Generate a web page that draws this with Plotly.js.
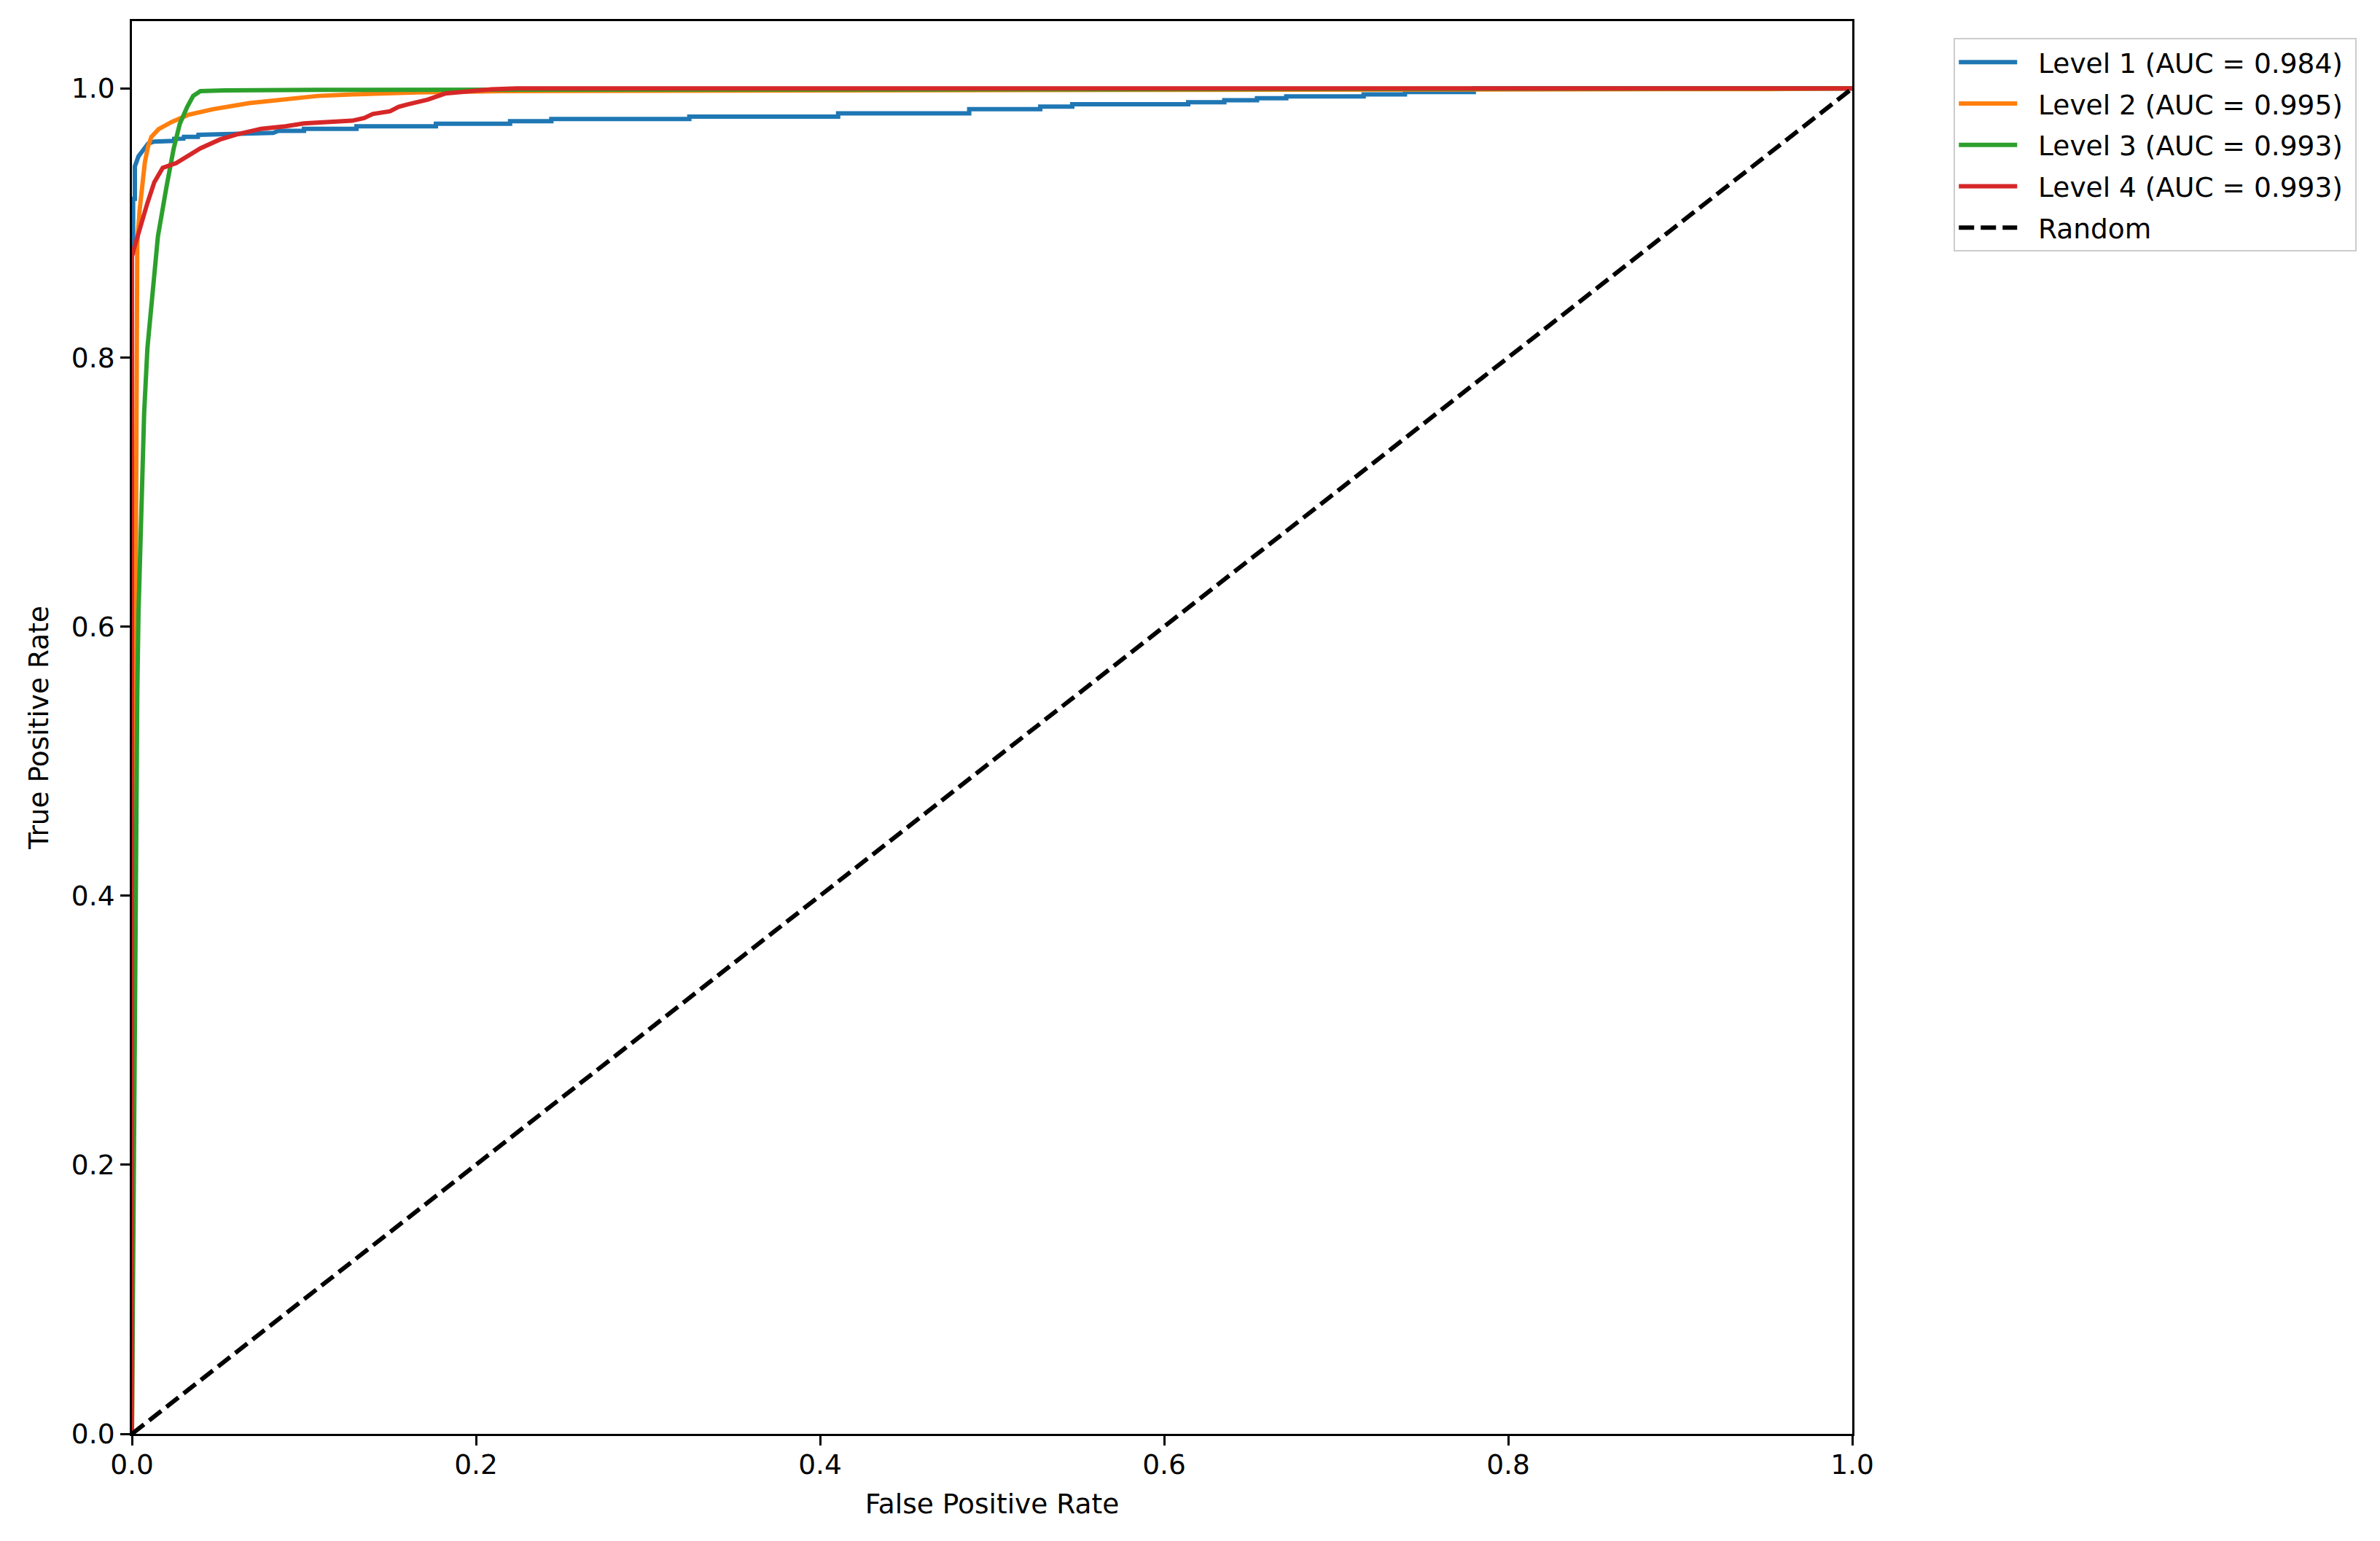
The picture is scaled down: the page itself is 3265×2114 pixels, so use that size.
<!DOCTYPE html>
<html>
<head>
<meta charset="utf-8">
<script src="https://cdn.plot.ly/plotly-3.0.1.min.js"></script>
<style>html,body{margin:0;padding:0;background:#fff;}#chart{width:3265px;height:2114px;}</style>
</head>
<body>
<div id="chart"></div>
<script>
// ---- data ----
const seriesNames = ["Level 1 (AUC = 0.984)", "Level 2 (AUC = 0.995)", "Level 3 (AUC = 0.993)", "Level 4 (AUC = 0.993)", "Random"];

const level1_fpr = [0, 0, 0.0007, 0.0007, 0.0017, 0.0017, 0.0038, 0.0073, 0.0094, 0.013, 0.0243, 0.0245, 0.030, 0.0302, 0.0384, 0.0386, 0.0511, 0.0596, 0.0822, 0.085, 0.100, 0.100, 0.1305, 0.1305, 0.1767, 0.1767, 0.2198, 0.2198, 0.2438, 0.2438, 0.324, 0.324, 0.4105, 0.4105, 0.4867, 0.4867, 0.528, 0.528, 0.5466, 0.5466, 0.614, 0.614, 0.635, 0.635, 0.654, 0.654, 0.671, 0.671, 0.716, 0.716, 0.740, 0.740, 0.780, 0.780, 1.0];
const level1_tpr = [0, 0.878, 0.878, 0.918, 0.918, 0.942, 0.9495, 0.9555, 0.959, 0.9605, 0.9610, 0.9625, 0.9627, 0.964, 0.964, 0.9655, 0.966, 0.9667, 0.967, 0.9685, 0.9685, 0.970, 0.970, 0.9718, 0.9718, 0.9738, 0.9738, 0.9756, 0.9756, 0.9772, 0.9772, 0.979, 0.979, 0.9815, 0.9815, 0.9846, 0.9846, 0.9865, 0.9865, 0.9882, 0.9882, 0.9897, 0.9897, 0.9912, 0.9912, 0.9927, 0.9927, 0.9941, 0.9941, 0.9955, 0.9955, 0.9973, 0.9973, 1.0, 1.0];

const level2_fpr = [0, 0.0005, 0.001, 0.0015, 0.002, 0.0024, 0.0031, 0.0045, 0.006, 0.0075, 0.0094, 0.0113, 0.0155, 0.023, 0.033, 0.047, 0.068, 0.089, 0.108, 0.128, 0.166, 0.215, 0.35, 0.6, 0.95, 1.0];
const level2_tpr = [0, 0.15, 0.35, 0.55, 0.70, 0.80, 0.885, 0.910, 0.932, 0.945, 0.957, 0.964, 0.9697, 0.975, 0.9805, 0.9845, 0.989, 0.992, 0.9944, 0.9955, 0.997, 0.998, 0.9985, 0.999, 0.9995, 1.0];

const level3_fpr = [0, 0.0008, 0.0015, 0.0031, 0.0038, 0.0052, 0.0071, 0.009, 0.0123, 0.0151, 0.0201, 0.0243, 0.0278, 0.0321, 0.0356, 0.0398, 0.054, 0.108, 0.5, 1.0];
const level3_tpr = [0, 0.15, 0.30, 0.55, 0.61, 0.686, 0.759, 0.807, 0.856, 0.890, 0.927, 0.9555, 0.9736, 0.9862, 0.9944, 0.998, 0.9985, 0.9989, 0.9993, 1.0];

const level4_fpr = [0, 0, 0.001, 0.0031, 0.0088, 0.013, 0.0179, 0.0257, 0.0328, 0.0398, 0.0511, 0.061, 0.0751, 0.0893, 0.100, 0.117, 0.128, 0.135, 0.140, 0.150, 0.155, 0.160, 0.172, 0.182, 0.197, 0.209, 0.224, 1.0];
const level4_tpr = [0, 0.875, 0.880, 0.890, 0.914, 0.9303, 0.941, 0.9445, 0.950, 0.9555, 0.962, 0.9658, 0.970, 0.9718, 0.974, 0.975, 0.976, 0.978, 0.981, 0.983, 0.9863, 0.988, 0.9917, 0.9962, 0.998, 0.9993, 1.0, 1.0];

const random_fpr = [0, 1];
const random_tpr = [0, 1];

const tickVals = [0, 0.2, 0.4, 0.6, 0.8, 1.0];
const tickText = ["0.0", "0.2", "0.4", "0.6", "0.8", "1.0"];

// ---- styling ----
const colors = ["#1f77b4", "#ff7f0e", "#2ca02c", "#d62728", "#000000"];
const LW = 6;
const FS = 37.5;
const FONT = "DejaVu Sans, Liberation Sans, sans-serif";
const NB = "\u00A0";

const xs = [level1_fpr, level2_fpr, level3_fpr, level4_fpr, random_fpr];
const ys = [level1_tpr, level2_tpr, level3_tpr, level4_tpr, random_tpr];

const traces = xs.map((x, i) => ({
  x: x, y: ys[i], type: "scatter", mode: "lines",
  name: NB + NB + seriesNames[i] + NB,
  legendgroup: "g" + i,
  line: {color: colors[i], width: LW, dash: i === 4 ? "21px,9px" : "solid"},
  hoverinfo: "skip"
}));

const axisCommon = {
  showgrid: false, zeroline: false, showline: true, mirror: true,
  linecolor: "#000", linewidth: 3, ticks: "outside", ticklen: 13, tickwidth: 3,
  tickcolor: "#000", tickfont: {family: FONT, size: FS, color: "#000"},
  tickvals: tickVals, ticktext: tickText, fixedrange: true
};

const layout = {
  width: 3265, height: 2114,
  margin: {l: 181, r: 724, t: 29, b: 147, pad: 0},
  paper_bgcolor: "#fff", plot_bgcolor: "#fff",
  showlegend: true,
  xaxis: Object.assign({}, axisCommon, {
    range: [0, 1],
    ticklabelstandoff: -6,
    title: {text: "False Positive Rate", font: {family: FONT, size: FS, color: "#000"}, standoff: 20}
  }),
  yaxis: Object.assign({}, axisCommon, {
    range: [0, 1.05],
    title: {text: "True Positive Rate", font: {family: FONT, size: FS, color: "#000"}, standoff: 20}
  }),
  legend: {
    x: 1.059, y: 0.988, xanchor: "left", yanchor: "top",
    bgcolor: "rgba(255,255,255,0.8)", bordercolor: "#cccccc", borderwidth: 2,
    font: {family: FONT, size: FS, color: "#000"},
    itemwidth: 80, tracegroupgap: 5, traceorder: "grouped"
  }
};

Plotly.newPlot("chart", traces, layout, {staticPlot: true, displayModeBar: false});
</script>
</body>
</html>
